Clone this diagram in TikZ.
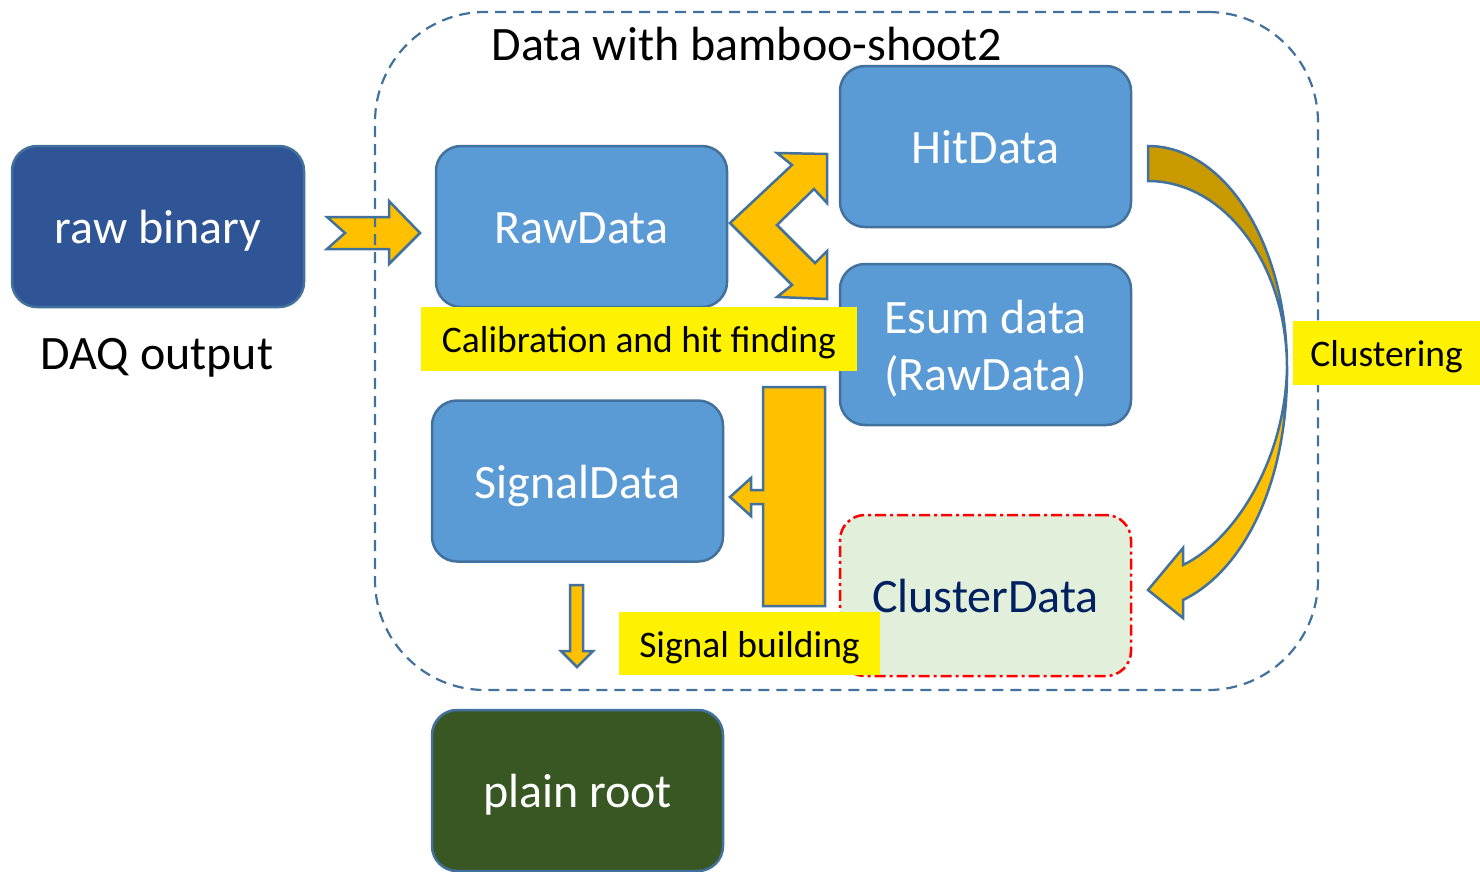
\documentclass[tikz,border=0pt]{standalone}
\usepackage{fontspec}
\setmainfont{Carlito}
\definecolor{edge}{HTML}{41719C}
\definecolor{boxblue}{HTML}{5B9BD5}
\definecolor{darkblue}{HTML}{2F5597}
\definecolor{darkgreen}{HTML}{385723}
\definecolor{paleg}{HTML}{E2EFDA}
\definecolor{navy}{HTML}{002060}
\definecolor{gold}{HTML}{FFC000}
\definecolor{darkgold}{HTML}{C99A00}
\tikzset{
  databox/.style={draw=edge, line width=2.5pt, rounded corners=25pt,
    minimum width=291pt, minimum height=161pt, inner sep=0pt, outer sep=0pt,
    text=white, font=\fontsize{48}{57}\selectfont, align=center},
  oneline/.style={text height=34pt, text depth=0pt},
  blockarrow/.style={draw=edge, line width=2.5pt, fill=gold, line join=miter},
  tag/.style={fill=yellow, inner sep=0pt, outer sep=0pt,
    font=\fontsize{37.5}{44}\selectfont, text height=27pt, text depth=0pt},
  plain text/.style={inner sep=0pt, font=\fontsize{48}{57}\selectfont}
}
\begin{document}
\begin{tikzpicture}[x=1pt, y=-1pt]
\useasboundingbox (0,0) rectangle (1480,871);

% data objects
\node[databox, oneline, fill=darkblue, minimum width=292pt] (raw) at (158,226.5) {raw binary};
\node[databox, oneline, fill=boxblue] (rawdata) at (581.5,226.5) {RawData};
\node[databox, oneline, fill=boxblue] (hit) at (985.5,146.5) {HitData};
\node[databox, fill=boxblue] (esum) at (985.5,344.5)
  {\raisebox{-6pt}[\height][\depth]{\begin{tabular}{@{}c@{}}Esum data\\(RawData)\end{tabular}}};
\node[databox, oneline, fill=boxblue] (signal) at (577.5,481) {SignalData};
\node[databox, oneline, fill=paleg, draw=red, text=navy,
      dash pattern=on 11pt off 4pt on 3pt off 4pt] (cluster) at (985.5,595.5) {ClusterData};
\node[databox, oneline, fill=darkgreen] (plain) at (577.5,790.5) {plain root};

\node[plain text] (daq) at (157,358) {DAQ output};

% block arrows
\draw[blockarrow] (327,217) -- (389,217) -- (389,201) -- (420,233) -- (389,264)
  -- (389,249) -- (327,249) -- (345,233) -- cycle;
\draw[blockarrow] (730,223) -- (792,165) -- (777,153) -- (827,154) -- (827,203)
  -- (814,189) -- (777,225) -- (815,263) -- (827,251) -- (827,299) -- (777,297)
  -- (792,285) -- cycle;
\draw[blockarrow] (763,387) -- (825,387) -- (825,606) -- (763,606) -- (763,504)
  -- (751,504) -- (751,516) -- (730,497) -- (751,478) -- (751,490) -- (763,490) -- cycle;
\draw[blockarrow] (570,585) -- (583,585) -- (583,651) -- (593,651) -- (577,667)
  -- (561,651) -- (570,651) -- cycle;
% curved arrow: back face on top, front face with the head below
\draw[blockarrow, fill=darkgold] (1148,146) .. controls (1225,146) and (1287,244) .. (1287,368)
  .. controls (1287,265) and (1225,181) .. (1148,181) -- cycle;
\draw[blockarrow] (1287,368) .. controls (1288,480) and (1245,570) .. (1183,600)
  -- (1183,618) -- (1148,590) -- (1183,548) -- (1183,565)
  .. controls (1235,540) and (1285,460) .. (1287,368) -- cycle;

% container
\node[draw=edge, line width=2.2pt, dash pattern=on 11pt off 7pt, rounded corners=110pt,
      minimum width=943pt, minimum height=678pt, inner sep=0pt] (container) at (846.5,351) {};
\node[plain text] (title) at (747,44) {Data with bamboo-shoot2};

% step labels
\node[tag, minimum width=436pt, minimum height=64pt] (calib) at (639,339) {Calibration and hit finding};
\node[tag, minimum width=187pt, minimum height=64pt] (clus) at (1386.5,353) {Clustering};
\node[tag, minimum width=261pt, minimum height=63pt] (sigb) at (749.5,643.5) {Signal building};
\end{tikzpicture}
\end{document}
